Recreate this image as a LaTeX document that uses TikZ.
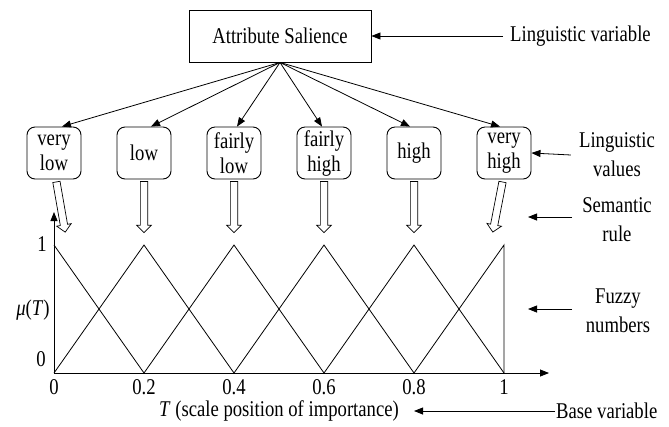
\documentclass[tikz,border=0pt]{standalone}
\usepackage{fontspec}
\setmainfont{Liberation Serif}[FakeStretch=0.83]
\usetikzlibrary{arrows.meta,shapes.arrows}
\begin{document}
\begin{tikzpicture}[x=1bp,y=-1bp,
  every node/.style={font=\fontsize{22.5bp}{25bp}\selectfont, inner sep=0pt},
  thin line/.style={line width=0.8bp},
  arr/.style={thin line,-{Triangle[length=9bp,width=7bp]}},
  varbox/.style={draw, line width=0.9bp, minimum width=182bp, minimum height=52bp},
  valbox/.style={draw, line width=0.9bp, rounded corners=8bp, minimum width=54bp, minimum height=52bp, align=center},
  hollow/.style={single arrow, draw, fill=white, line width=0.7bp, inner sep=3.3bp,
     single arrow head extend=3.7bp, single arrow head indent=0pt, minimum height=51bp,
     sloped, allow upside down},
  lbl/.style={align=center, font=\fontsize{22.5bp}{29bp}\selectfont}
]
\useasboundingbox (0,0) rectangle (669,426);

% linguistic variable
\node[varbox] (var) at (280,36) {Attribute Salience};
\node[anchor=west] (lvar) at (510,36) {Linguistic variable};
\draw[arr] (lvar.west) ++(-7,0) coordinate (lvs) -- (var.east);

% linguistic values
\node[valbox] (v1) at (54,153) {very\\low};
\node[valbox] (v2) at (144,153) {low};
\node[valbox] (v3) at (234,153) {fairly\\low};
\node[valbox] (v4) at (324,153) {fairly\\high};
\node[valbox] (v5) at (414,153) {high};
\node[valbox] (v6) at (504,153) {very\\high};

\draw[arr] (var.south) -- ([xshift=8bp]v1.north);
\draw[arr] (var.south) -- ([xshift=7bp]v2.north);
\draw[arr] (var.south) -- ([xshift=3bp]v3.north);
\draw[arr] (var.south) -- ([xshift=-2bp]v4.north);
\draw[arr] (var.south) -- ([xshift=-4bp]v5.north);
\draw[arr] (var.south) -- ([xshift=-4bp]v6.north);

\node[lbl] (lval) at (617,155) {Linguistic\\values};
\draw[arr] (lval.west) ++(-8,0) -- (v6.east);

% semantic rule (hollow arrows)
\coordinate (e1) at (65,231);
\coordinate (e2) at (144,231);
\coordinate (e3) at (234,231);
\coordinate (e4) at (324,231);
\coordinate (e5) at (414,231);
\coordinate (e6) at (493,231);
\path ([xshift=2bp]v1.south) -- (e1) node[hollow, midway] {};
\path (v2.south) -- (e2) node[hollow, midway] {};
\path (v3.south) -- (e3) node[hollow, midway] {};
\path (v4.south) -- (e4) node[hollow, midway] {};
\path (v5.south) -- (e5) node[hollow, midway] {};
\path ([xshift=-1bp]v6.south) -- (e6) node[hollow, midway] {};

\node[lbl] (srule) at (617,220) {Semantic\\rule};
\coordinate (srt) at (528,217);
\draw[arr] (572,217) coordinate (srs) -- (srt);

% axes
\coordinate (O) at (54,373);
\coordinate (ytop) at (54,212);
\coordinate (xend) at (549,373);
\draw[arr] (O) -- (ytop);
\draw[arr] (O) -- (xend);

% fuzzy numbers
\draw[thin line] (54,245) -- (144,373);
\draw[thin line] (54,373) -- (144,245) -- (234,373);
\draw[thin line] (144,373) -- (234,245) -- (324,373);
\draw[thin line] (234,373) -- (324,245) -- (414,373);
\draw[thin line] (324,373) -- (414,245) -- (504,373);
\draw[thin line] (414,373) -- (504,245) -- (504,373);

\node (one) at (42,244) {1};
\node (zero) at (41,359) {0};
\node (mu) at (33,310) {\textit{μ}(\textit{T})};

\node (t0) at (54,387) {0};
\node (t1) at (144,387) {0.2};
\node (t2) at (234,387) {0.4};
\node (t3) at (324,387) {0.6};
\node (t4) at (414,387) {0.8};
\node (t5) at (504,387) {1};

\node[lbl] (fuzzy) at (618,311) {Fuzzy\\numbers};
\coordinate (fzt) at (528,309);
\draw[arr] (572,309) coordinate (fzs) -- (fzt);

% base variable
\node (tlab) at (279,411) {\textit{T} (scale position of importance)};
\node[anchor=west] (bvar) at (556,411) {Base variable};
\draw[arr] ([xshift=-1bp]bvar.west) -- ([xshift=15bp]tlab.east);
\end{tikzpicture}
\end{document}
